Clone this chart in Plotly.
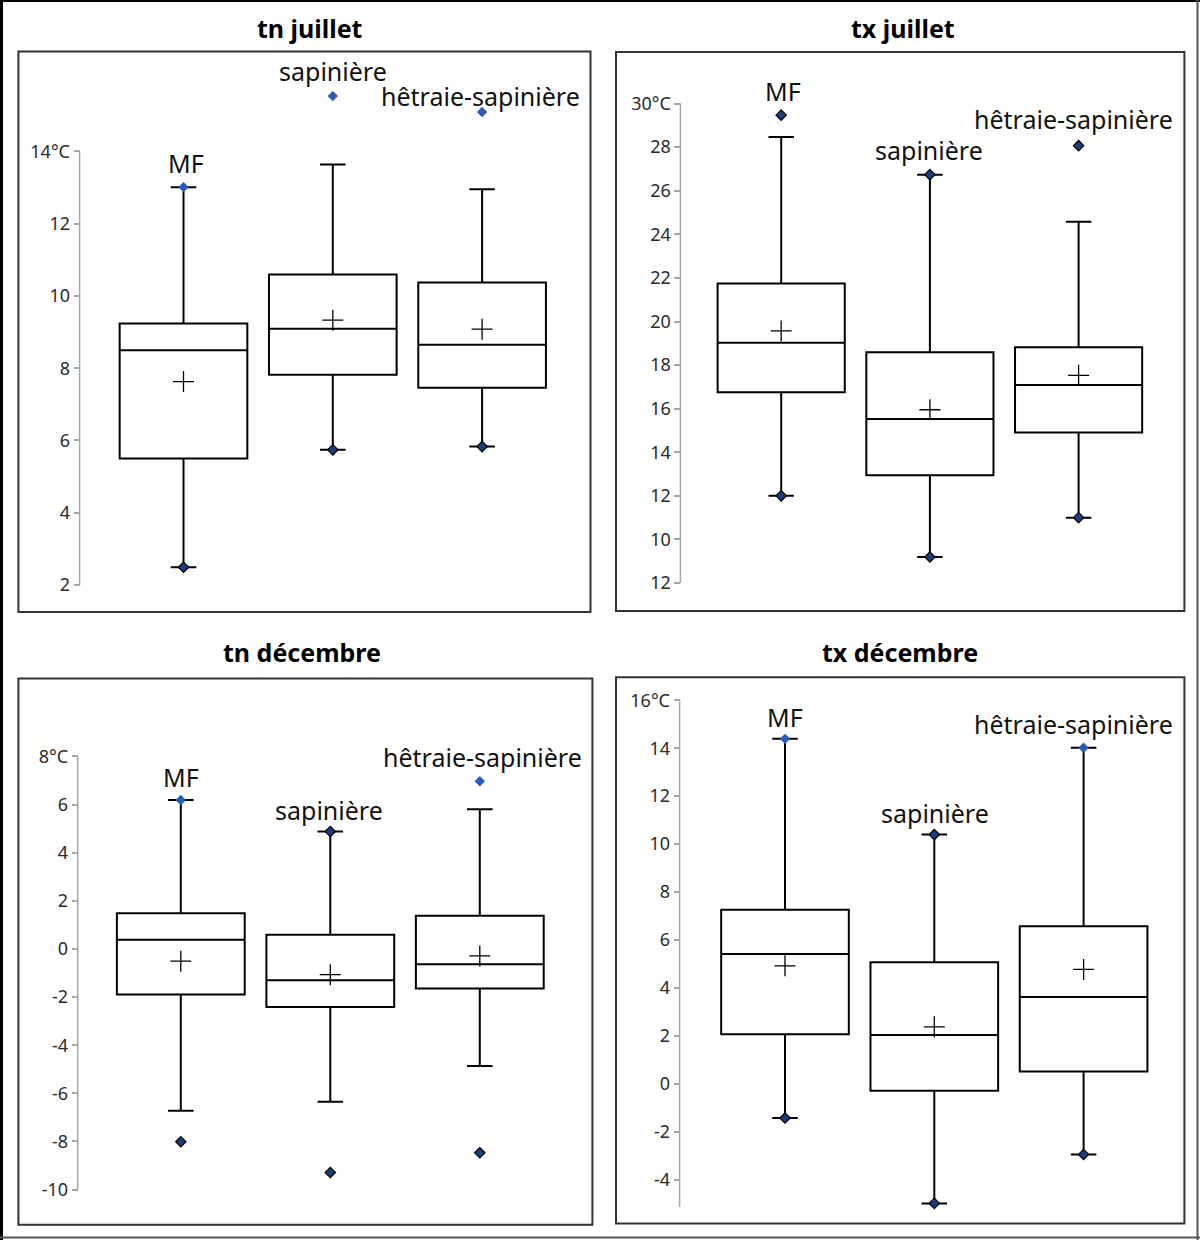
import plotly.graph_objects as go

# --- data ---
groups = ["MF", "sapinière", "hêtraie-sapinière"]

tn_juil_q1 = [5.50, 7.82, 7.46]
tn_juil_med = [8.50, 9.09, 8.65]
tn_juil_q3 = [9.24, 10.59, 10.37]
tn_juil_lo = [2.49, 5.74, 5.83]
tn_juil_hi = [13.01, 13.64, 12.95]
tn_juil_mean = [7.63, 9.33, 9.08]
tn_juil_blue_grp = ["MF", "sapinière", "hêtraie-sapinière"]
tn_juil_blue = [13.01, 15.53, 15.09]
tn_juil_dark_grp = ["MF", "sapinière", "hêtraie-sapinière"]
tn_juil_dark = [2.49, 5.74, 5.83]

tx_juil_q1 = [16.75, 12.94, 14.91]
tx_juil_med = [19.03, 15.53, 17.09]
tx_juil_q3 = [21.74, 18.59, 18.82]
tx_juil_lo = [12.0, 9.19, 11.0]
tx_juil_hi = [28.47, 26.74, 24.58]
tx_juil_mean = [19.57, 15.95, 17.53]
tx_juil_blue_grp = []
tx_juil_blue = []
tx_juil_dark_grp = ["MF", "MF", "sapinière", "sapinière", "hêtraie-sapinière", "hêtraie-sapinière"]
tx_juil_dark = [29.47, 12.0, 26.74, 9.19, 28.07, 11.0]

tn_dec_q1 = [-1.89, -2.41, -1.64]
tn_dec_med = [0.38, -1.30, -0.64]
tn_dec_q3 = [1.48, 0.59, 1.38]
tn_dec_lo = [-6.72, -6.35, -4.86]
tn_dec_hi = [6.19, 4.88, 5.80]
tn_dec_mean = [-0.51, -1.07, -0.29]
tn_dec_blue_grp = ["MF", "hêtraie-sapinière"]
tn_dec_blue = [6.19, 6.97]
tn_dec_dark_grp = ["sapinière", "MF", "sapinière", "hêtraie-sapinière"]
tn_dec_dark = [4.88, -8.01, -9.29, -8.47]

tx_dec_q1 = [2.08, -0.28, 0.53]
tx_dec_med = [5.42, 2.05, 3.63]
tx_dec_q3 = [7.27, 5.08, 6.58]
tx_dec_lo = [-1.41, -4.97, -2.93]
tx_dec_hi = [14.39, 10.40, 14.02]
tx_dec_mean = [4.93, 2.39, 4.78]
tx_dec_blue_grp = ["MF", "hêtraie-sapinière"]
tx_dec_blue = [14.39, 14.02]
tx_dec_dark_grp = ["sapinière", "MF", "sapinière", "hêtraie-sapinière"]
tx_dec_dark = [10.40, -1.41, -4.97, -2.93]

tn_juil_ticks = [2, 4, 6, 8, 10, 12, 14]
tn_juil_ticktext = ["2", "4", "6", "8", "10", "12", "14°C"]
tx_juil_ticks = [8, 10, 12, 14, 16, 18, 20, 22, 24, 26, 28, 30]
tx_juil_ticktext = ["12", "10", "12", "14", "16", "18", "20", "22", "24", "26", "28", "30°C"]
tn_dec_ticks = [-10, -8, -6, -4, -2, 0, 2, 4, 6, 8]
tn_dec_ticktext = ["-10", "-8", "-6", "-4", "-2", "0", "2", "4", "6", "8°C"]
tx_dec_ticks = [-4, -2, 0, 2, 4, 6, 8, 10, 12, 14, 16]
tx_dec_ticktext = ["-4", "-2", "0", "2", "4", "6", "8", "10", "12", "14", "16°C"]

W, H = 1200, 1240
FONT = "Noto Sans"
BLUE = "#2a5bb8"
DARK = "#1d3c78"

# geometry in pixels: frame box, axis x, pixel rows of the axis ends (ypx <-> axis_span)
panels = [
    dict(title="tn juillet", q1=tn_juil_q1, med=tn_juil_med, q3=tn_juil_q3, lo=tn_juil_lo,
         hi=tn_juil_hi, mean=tn_juil_mean, blue_grp=tn_juil_blue_grp, blue=tn_juil_blue,
         dark_grp=tn_juil_dark_grp, dark=tn_juil_dark, ticks=tn_juil_ticks, ticktext=tn_juil_ticktext,
         axis_span=[2, 14], frame=(18.4, 51.4, 590.5, 611.9), axis_x=79.6, ypx=(151.4, 585.0),
         c0=183.5, sp=149.3, title_xy=(310, 27.7),
         labels_xy=[(186, 163), (333, 71), (480, 96)]),
    dict(title="tx juillet", q1=tx_juil_q1, med=tx_juil_med, q3=tx_juil_q3, lo=tx_juil_lo,
         hi=tx_juil_hi, mean=tx_juil_mean, blue_grp=tx_juil_blue_grp, blue=tx_juil_blue,
         dark_grp=tx_juil_dark_grp, dark=tx_juil_dark, ticks=tx_juil_ticks, ticktext=tx_juil_ticktext,
         axis_span=[8, 30], frame=(616.0, 52.0, 1184.4, 611.0), axis_x=680.4, ypx=(103.6, 583.0),
         c0=781.2, sp=148.7, title_xy=(903, 27.7),
         labels_xy=[(782.5, 91), (929, 150), (1073.8, 118.6)]),
    dict(title="tn décembre", q1=tn_dec_q1, med=tn_dec_med, q3=tn_dec_q3, lo=tn_dec_lo,
         hi=tn_dec_hi, mean=tn_dec_mean, blue_grp=tn_dec_blue_grp, blue=tn_dec_blue,
         dark_grp=tn_dec_dark_grp, dark=tn_dec_dark, ticks=tn_dec_ticks, ticktext=tn_dec_ticktext,
         axis_span=[-10, 8], frame=(18.4, 678.5, 592.4, 1224.7), axis_x=77.7, ypx=(756.4, 1189.6),
         c0=180.8, sp=149.5, title_xy=(302, 652.4),
         labels_xy=[(181, 777.3), (329, 809.7), (482, 757)]),
    dict(title="tx décembre", q1=tx_dec_q1, med=tx_dec_med, q3=tx_dec_q3, lo=tx_dec_lo,
         hi=tx_dec_hi, mean=tx_dec_mean, blue_grp=tx_dec_blue_grp, blue=tx_dec_blue,
         dark_grp=tx_dec_dark_grp, dark=tx_dec_dark, ticks=tx_dec_ticks, ticktext=tx_dec_ticktext,
         axis_span=[-5.12, 16], frame=(616.0, 677.3, 1184.4, 1223.6), axis_x=679.6, ypx=(700.2, 1207.0),
         c0=785.0, sp=149.3, title_xy=(900, 651.6),
         labels_xy=[(784.5, 716.8), (934.9, 812.5), (1073.8, 723.6)]),
]

fig = go.Figure()
annotations = []
shapes = []
pos = list(range(len(groups)))

for i, p in enumerate(panels, start=1):
    sfx = "" if i == 1 else str(i)
    xa, ya = "x" + sfx, "y" + sfx
    l, t, r, b = p["frame"]

    fig.add_trace(go.Box(
        x=pos, q1=p["q1"], median=p["med"], q3=p["q3"],
        lowerfence=p["lo"], upperfence=p["hi"],
        width=0.855, whiskerwidth=0.2, boxpoints=False,
        line=dict(color="black", width=2), fillcolor="white",
        showlegend=False, xaxis=xa, yaxis=ya,
    ))
    # mean as "+"
    fig.add_trace(go.Scatter(
        x=pos, y=p["mean"], mode="markers",
        marker=dict(symbol="cross-thin", size=15, line=dict(color="black", width=1.3)),
        showlegend=False, xaxis=xa, yaxis=ya,
    ))
    # extreme values / outliers
    fig.add_trace(go.Scatter(
        x=[groups.index(g) for g in p["dark_grp"]], y=p["dark"], mode="markers",
        marker=dict(symbol="diamond", size=8, color=DARK, line=dict(color="black", width=1.2)),
        showlegend=False, xaxis=xa, yaxis=ya,
    ))
    if p["blue"]:
        fig.add_trace(go.Scatter(
            x=[groups.index(g) for g in p["blue_grp"]], y=p["blue"], mode="markers",
            marker=dict(symbol="diamond", size=8, color=BLUE, line=dict(color=BLUE, width=0)),
            showlegend=False, xaxis=xa, yaxis=ya,
        ))

    # y range stretched to the whole frame, axis line only over the tick span
    lo_v, hi_v = p["axis_span"]
    top_px, bot_px = p["ypx"]
    u = (hi_v - lo_v) / (bot_px - top_px)
    yr = [lo_v - (b - bot_px) * u, hi_v + (top_px - t) * u]
    xr = [-(p["c0"] - l) / p["sp"], (r - p["c0"]) / p["sp"]]
    fig.update_layout({
        "xaxis" + sfx: dict(domain=[l / W, r / W], range=xr, visible=False, anchor=ya),
        "yaxis" + sfx: dict(
            domain=[1 - b / H, 1 - t / H], range=yr,
            anchor="free", position=p["axis_x"] / W, side="left", automargin=False,
            showline=False,
            ticks="outside", ticklen=6, tickcolor="#a6a6a6", tickwidth=1.5,
            showgrid=False, zeroline=False,
            tickvals=p["ticks"], ticktext=p["ticktext"],
            tickfont=dict(family=FONT, size=18, color="#2b2b2b"),
        ),
    })

    shapes.append(dict(type="line", xref="paper", yref=ya,
                       x0=p["axis_x"] / W, x1=p["axis_x"] / W, y0=lo_v, y1=hi_v,
                       line=dict(color="#a6a6a6", width=1.5), layer="below"))
    shapes.append(dict(type="rect", xref="paper", yref="paper",
                       x0=l / W, x1=r / W, y0=1 - b / H, y1=1 - t / H,
                       line=dict(color="#333333", width=2)))

    tx, ty = p["title_xy"]
    annotations.append(dict(text="<b>" + p["title"] + "</b>", xref="paper", yref="paper",
                            x=tx / W, y=1 - ty / H, xanchor="center", yanchor="middle",
                            showarrow=False, font=dict(family=FONT, size=25, color="black")))
    for g, (lx, ly) in zip(groups, p["labels_xy"]):
        annotations.append(dict(text=g, xref="paper", yref="paper", x=lx / W, y=1 - ly / H,
                                xanchor="center", yanchor="middle", showarrow=False,
                                font=dict(family=FONT, size=25, color="#111111")))

# outer border
shapes += [
    dict(type="line", xref="paper", yref="paper", x0=1.5 / W, x1=1.5 / W, y0=0, y1=1,
         line=dict(color="black", width=3)),
    dict(type="line", xref="paper", yref="paper", x0=0, x1=1, y0=1 - 1 / H, y1=1 - 1 / H,
         line=dict(color="black", width=2)),
    dict(type="line", xref="paper", yref="paper", x0=1197.5 / W, x1=1197.5 / W, y0=0, y1=1,
         line=dict(color="#555555", width=2)),
    dict(type="line", xref="paper", yref="paper", x0=0, x1=1, y0=1 - 1237.5 / H, y1=1 - 1237.5 / H,
         line=dict(color="#555555", width=2)),
]

fig.update_layout(
    width=W, height=H, margin=dict(l=0, r=0, t=0, b=0, autoexpand=False),
    paper_bgcolor="white", plot_bgcolor="white",
    shapes=shapes, annotations=annotations,
    font=dict(family=FONT),
)

fig.write_html("out.html", config={"displayModeBar": False},
               post_script="document.body.style.margin='0';")
